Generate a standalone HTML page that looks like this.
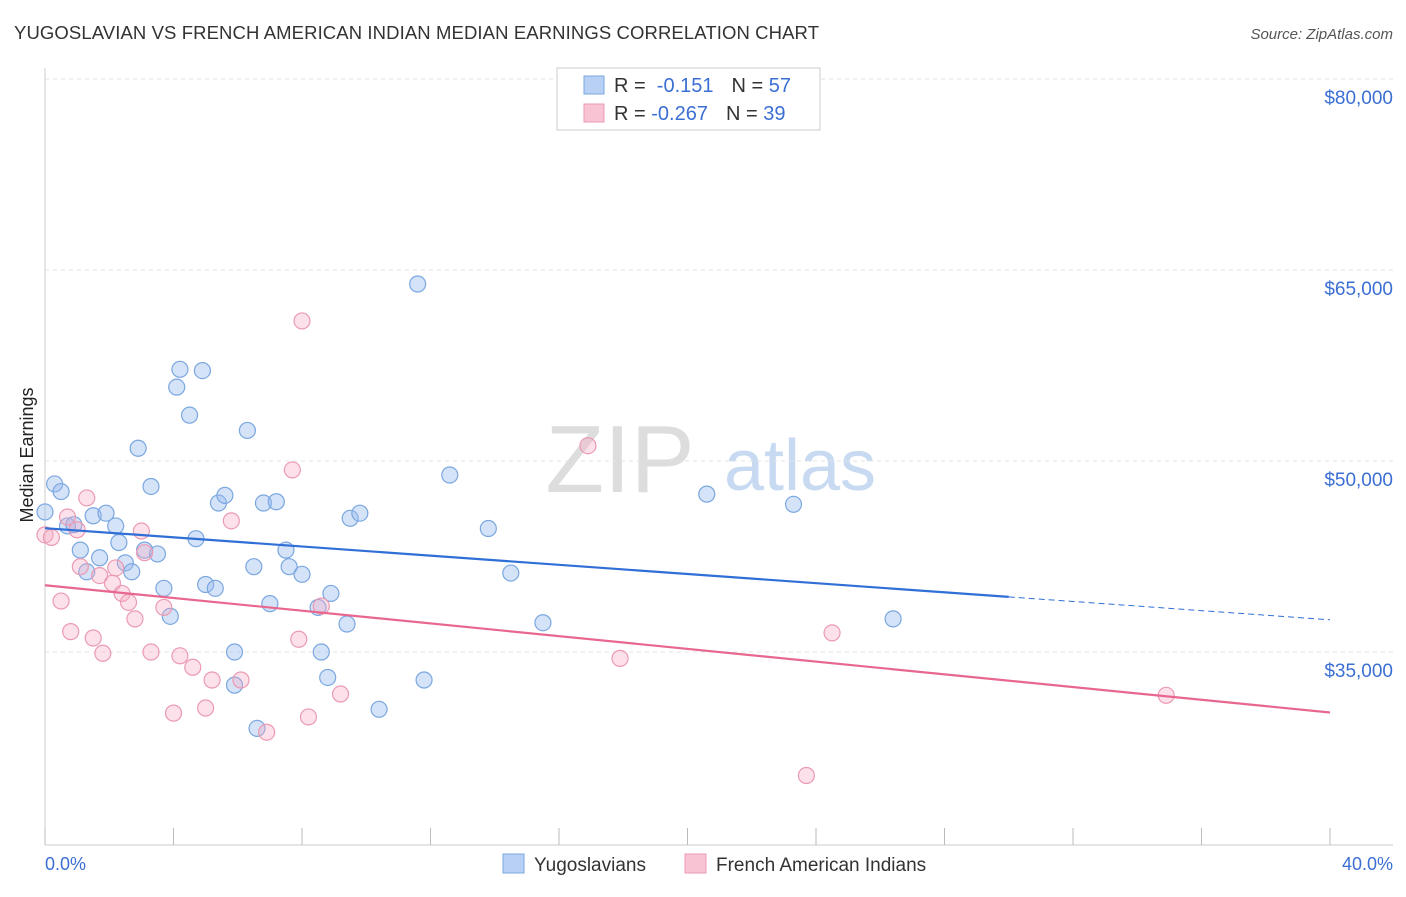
<!DOCTYPE html>
<html><head><meta charset="utf-8"><style>
body{margin:0;background:#fff;font-family:"Liberation Sans",sans-serif;}
svg text{font-family:"Liberation Sans",sans-serif;}
</style></head><body>
<svg id="c" width="1406" height="892">
<text x="14" y="39" font-size="18.5" fill="#333" textLength="805">YUGOSLAVIAN VS FRENCH AMERICAN INDIAN MEDIAN EARNINGS CORRELATION CHART</text>
<text x="1393" y="39" font-size="15" fill="#555" font-style="italic" text-anchor="end">Source: ZipAtlas.com</text>
<text x="33" y="455" font-size="18" fill="#222" transform="rotate(-90 33 455)" text-anchor="middle">Median Earnings</text>
<text x="620" y="492" font-size="96" fill="#ddd" font-family="Liberation Serif" text-anchor="middle">ZIP</text>
<text x="800" y="490" font-size="72" fill="#c7daf2" text-anchor="middle">atlas</text>
<g id="grid"></g><g id="pts"></g><g id="lines"></g>
<g>
<rect x="557" y="68" width="263" height="62" fill="#fff" stroke="#ccc"/>
<rect x="584" y="76" width="20" height="18" fill="#b8d0f3" stroke="#7aa7e0"/>
<rect x="584" y="104" width="20" height="18" fill="#f8c4d3" stroke="#eb9ab3"/>
<text x="614" y="92" font-size="20" fill="#333">R = <tspan fill="#3b6fd4">&#160;-0.151</tspan><tspan dx="18">N = </tspan><tspan fill="#3b6fd4">57</tspan></text>
<text x="614" y="120" font-size="20" fill="#333">R = <tspan fill="#3b6fd4">-0.267</tspan><tspan dx="18">N = </tspan><tspan fill="#3b6fd4">39</tspan></text>
</g>
<g>
<rect x="503" y="854" width="21" height="19" fill="#b8d0f3" stroke="#7aa7e0"/>
<text x="534" y="871" font-size="19" fill="#333">Yugoslavians</text>
<rect x="685" y="854" width="21" height="19" fill="#f8c4d3" stroke="#eb9ab3"/>
<text x="716" y="871" font-size="19" fill="#333">French American Indians</text>
</g>
<text x="45" y="870" font-size="18" fill="#3b6fd4">0.0%</text>
<text x="1393" y="870" font-size="18" fill="#3b6fd4" text-anchor="end">40.0%</text>
</svg>
<script>
const yTicks=[35000,50000,65000,80000];
const yTickLabels=["$35,000","$50,000","$65,000","$80,000"];
const blueX=[0.3,0.5,0,0.7,0.9,1.5,1.9,2.2,1.1,1.7,1.3,2.3,2.5,2.7,3.1,3.5,2.9,3.3,4.1,4.2,4.9,4.5,6.3,4.7,3.7,3.9,5.0,5.3,5.4,5.6,6.8,7.2,6.5,7.0,7.5,7.6,8.0,5.9,5.9,6.6,8.5,8.6,8.8,8.9,9.4,9.5,9.8,10.4,11.6,11.8,12.6,13.8,14.5,15.5,20.6,23.3,26.4];
const blueY=[48200,47600,46000,44900,45000,45700,45900,44900,43000,42400,41300,43600,42000,41300,43000,42700,51000,48000,55800,57200,57100,53600,52400,43900,40000,37800,40300,40000,46700,47300,46700,46800,41700,38800,43000,41700,41100,35000,32400,29000,38500,35000,33000,39600,37200,45500,45900,30500,63900,32800,48900,44700,41200,37300,47400,46600,37600];
const pinkX=[0,0.2,0.5,0.8,0.7,1.0,1.1,1.3,1.5,1.7,1.8,2.1,2.2,2.4,2.6,2.8,3.0,3.1,3.3,3.7,4.0,4.2,4.6,5.0,5.2,5.8,6.1,6.9,7.7,7.9,8.0,8.2,8.6,9.2,16.9,17.9,24.5,23.7,34.9];
const pinkY=[44200,44000,39000,36600,45600,44600,41700,47100,36100,41000,34900,40400,41600,39600,38900,37600,44500,42800,35000,38500,30200,34700,33800,30600,32800,45300,32800,28700,49300,36000,61000,29900,38600,31700,51200,34500,36500,25300,31600];
const X=v=>45+v/40*1285, Y=v=>79+(80000-v)*191/15000;
const NS="http://www.w3.org/2000/svg";
function mk(t,a,p){const e=document.createElementNS(NS,t);for(const k in a)e.setAttribute(k,a[k]);p.appendChild(e);return e;}
const g=document.getElementById('grid');
yTicks.forEach((v,i)=>{
 const l=mk('line',{x1:45,x2:1393,y1:Y(v),y2:Y(v),stroke:'#e3e3e3','stroke-dasharray':'4,4'},g);
 
 
 const t=mk('text',{x:1393,y:Y(v)+25,'font-size':19,fill:'#3b6fd4','text-anchor':'end'},g);
 t.textContent=yTickLabels[i];
 
 
});
mk('line',{x1:45,x2:45,y1:68,y2:845,stroke:'#ccc'},g);
mk('line',{x1:45,x2:1393,y1:845,y2:845,stroke:'#ccc'},g);
for(let i=0;i<=10;i++){const x=X(i*4);const l=mk('line',{x1:x,x2:x,y1:828,y2:845,stroke:'#bbb'},g);
 
 }
const p=document.getElementById('pts');
function pts(xs,ys,f,s,n){xs.forEach((x,i)=>{const c=mk('circle',{cx:X(x),cy:Y(ys[i]),r:8,fill:f,stroke:s,'stroke-width':1.2},p);
 
 });}
pts(blueX,blueY,'rgba(150,185,238,0.4)','#7aa7e0','yugoslavian-point');
pts(pinkX,pinkY,'rgba(245,170,195,0.35)','#eb9ab3','french-american-indian-point');
const L=document.getElementById('lines');
function fit(xs,ys){const n=xs.length,mx=xs.reduce((a,b)=>a+b)/n,my=ys.reduce((a,b)=>a+b)/n;let sxy=0,sxx=0;xs.forEach((x,i)=>{sxy+=(x-mx)*(ys[i]-my);sxx+=(x-mx)**2});const b=sxy/sxx;return [my-b*mx,b];}
const bf=fit(blueX,blueY),pf=fit(pinkX,pinkY);
let e=mk('line',{x1:X(0),y1:Y(bf[0]),x2:X(30),y2:Y(bf[0]+bf[1]*30),stroke:'#2f6fd6','stroke-width':2.2},L);


e=mk('line',{x1:X(30),y1:Y(bf[0]+bf[1]*30),x2:X(40),y2:Y(bf[0]+bf[1]*40),stroke:'#2f6fd6','stroke-width':1,'stroke-dasharray':'6,4'},L);


e=mk('line',{x1:X(0),y1:Y(pf[0]),x2:X(40),y2:Y(pf[0]+pf[1]*40),stroke:'#e8678f','stroke-width':2.2},L);


</script>
</body></html>
